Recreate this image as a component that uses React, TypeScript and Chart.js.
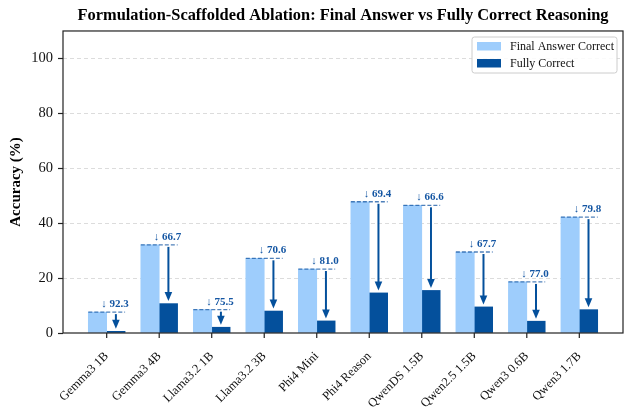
import React, { useEffect, useRef } from "react";
import { Chart, registerables } from "chart.js";

Chart.register(...registerables);

const categories = [
  "Gemma3 1B",
  "Gemma3 4B",
  "Llama3.2 1B",
  "Llama3.2 3B",
  "Phi4 Mini",
  "Phi4 Reason",
  "QwenDS 1.5B",
  "Qwen2.5 1.5B",
  "Qwen3 0.6B",
  "Qwen3 1.7B",
];
const finalAnswerCorrect = [7.6, 32.1, 8.5, 27.2, 23.3, 47.8, 46.5, 29.5, 18.6, 42.2];
const fullyCorrect = [0.6, 10.7, 2.1, 8.0, 4.4, 14.6, 15.5, 9.5, 4.3, 8.5];
const dropLabels = ["92.3", "66.7", "75.5", "70.6", "81.0", "69.4", "66.6", "67.7", "77.0", "79.8"];
const yTicks = [0, 20, 40, 60, 80, 100];

const LIGHT = "#9ecdfc";
const DARK = "#04509c";
const TEXT_BLUE = "#1456a3";
const FONT = "'Liberation Serif', 'DejaVu Serif', serif";

const annotationPlugin = {
  id: "dropAnnotations",
  afterDatasetsDraw(chart: any) {
    const ctx = chart.ctx;
    const y = chart.scales.y;
    const m0 = chart.getDatasetMeta(0);
    const m1 = chart.getDatasetMeta(1);
    ctx.save();
    for (let i = 0; i < categories.length; i++) {
      const b0 = m0.data[i];
      const b1 = m1.data[i];
      const left = b0.x - b0.width / 2;
      const right = b1.x + b1.width / 2;
      const yTop = y.getPixelForValue(finalAnswerCorrect[i]);
      const yBot = y.getPixelForValue(fullyCorrect[i]);
      ctx.beginPath();
      ctx.setLineDash([4, 2]);
      ctx.lineWidth = 1.3;
      ctx.strokeStyle = "rgba(20,86,163,0.75)";
      ctx.moveTo(left, yTop);
      ctx.lineTo(right, yTop);
      ctx.stroke();
      ctx.setLineDash([]);
      const ax = b1.x;
      const start = yTop + 2;
      const tip = yBot - 2.5;
      const headLen = Math.min(9, Math.max(4, tip - start));
      ctx.strokeStyle = DARK;
      ctx.fillStyle = DARK;
      ctx.lineWidth = 2;
      ctx.beginPath();
      ctx.moveTo(ax, start);
      ctx.lineTo(ax, tip - headLen + 1);
      ctx.stroke();
      ctx.beginPath();
      ctx.moveTo(ax, tip);
      ctx.lineTo(ax - 3.8, tip - headLen);
      ctx.lineTo(ax + 3.8, tip - headLen);
      ctx.closePath();
      ctx.fill();
      ctx.fillStyle = TEXT_BLUE;
      ctx.textBaseline = "alphabetic";
      const arrowTxt = "↓ ";
      const numTxt = dropLabels[i];
      ctx.font = `11px ${FONT}`;
      const w1 = ctx.measureText(arrowTxt).width;
      ctx.font = `bold 11px ${FONT}`;
      const w2 = ctx.measureText(numTxt).width;
      const cx = b1.x - 1;
      const sx = cx - (w1 + w2) / 2;
      const by = yTop - 5;
      ctx.font = `11px ${FONT}`;
      ctx.textAlign = "left";
      ctx.fillText(arrowTxt, sx, by);
      ctx.font = `bold 11px ${FONT}`;
      ctx.fillText(numTxt, sx + w1, by);
    }
    ctx.restore();
  },
  afterDraw(chart: any) {
    const ctx = chart.ctx;
    const a = chart.chartArea;
    const m0 = chart.getDatasetMeta(0);
    ctx.save();
    ctx.setLineDash([]);
    ctx.strokeStyle = "#222222";
    ctx.lineWidth = 1.2;
    ctx.strokeRect(a.left, a.top, a.right - a.left, a.bottom - a.top);
    // x tick marks at category centres
    ctx.fillStyle = "#222222";
    for (let i = 0; i < categories.length; i++) {
      const b0 = m0.data[i];
      const px = b0.x + b0.width / 2;
      ctx.fillRect(px - 0.6, a.bottom, 1.2, 5);
    }
    // legend
    const lx = 472, ly = 37, lw = 145, lh = 36;
    ctx.fillStyle = "rgba(255,255,255,0.85)";
    ctx.strokeStyle = "#cccccc";
    ctx.lineWidth = 1;
    ctx.beginPath();
    const r = 2.5;
    ctx.moveTo(lx + r, ly);
    ctx.lineTo(lx + lw - r, ly);
    ctx.arcTo(lx + lw, ly, lx + lw, ly + r, r);
    ctx.lineTo(lx + lw, ly + lh - r);
    ctx.arcTo(lx + lw, ly + lh, lx + lw - r, ly + lh, r);
    ctx.lineTo(lx + r, ly + lh);
    ctx.arcTo(lx, ly + lh, lx, ly + lh - r, r);
    ctx.lineTo(lx, ly + r);
    ctx.arcTo(lx, ly, lx + r, ly, r);
    ctx.closePath();
    ctx.fill();
    ctx.stroke();
    ctx.font = `12px ${FONT}`;
    ctx.textBaseline = "middle";
    ctx.textAlign = "left";
    chart.data.datasets.forEach((ds: any, k: number) => {
      const cy = ly + 9 + k * 17;
      ctx.fillStyle = ds.backgroundColor;
      ctx.fillRect(lx + 5, cy - 4, 24, 8.5);
      ctx.fillStyle = "#111";
      ctx.fillText(ds.label, lx + 38, cy + 0.5);
    });
    ctx.restore();
  },
};

export default function App() {
  const ref = useRef<HTMLCanvasElement>(null);
  useEffect(() => {
    document.body.style.margin = "0";
    const chart = new Chart(ref.current as HTMLCanvasElement, {
      type: "bar",
      data: {
        datasets: [
          {
            label: "Final Answer Correct",
            data: finalAnswerCorrect.map((v, i) => ({ x: i, y: v })),
            backgroundColor: LIGHT,
            borderWidth: 0,
          },
          {
            label: "Fully Correct",
            data: fullyCorrect.map((v, i) => ({ x: i, y: v })),
            backgroundColor: DARK,
            borderWidth: 0,
          },
        ],
      },
      options: {
        animation: false,
        responsive: false,
        devicePixelRatio: 1,
        barThickness: 18.4,
        layout: { padding: { top: 0, right: 11, bottom: 0, left: 0 } },
        plugins: {
          legend: { display: false },
          tooltip: { enabled: false },
          title: {
            display: true,
            fullSize: false,
            text: "Formulation-Scaffolded Ablation: Final Answer vs Fully Correct Reasoning",
            color: "#000",
            font: { family: FONT, size: 16.4, weight: "bold" },
            padding: { top: 6, bottom: 5.3 },
          },
        },
        scales: {
          x: {
            type: "linear",
            offset: false,
            min: -0.832,
            max: 9.832,
            afterBuildTicks: (scale: any) => {
              scale.ticks = categories.map((_, i) => ({ value: i }));
            },
            afterFit: (scale: any) => {
              scale.height = 85;
            },
            ticks: {
              autoSkip: false,
              minRotation: 45,
              maxRotation: 45,
              padding: 8,
              color: "#111",
              font: { family: FONT, size: 12.5 },
              callback: (v: any) => categories[v] ?? "",
            },
            grid: { display: false },
            border: { display: false },
          },
          y: {
            min: 0,
            max: 110,
            afterBuildTicks: (scale: any) => {
              scale.ticks = yTicks.map((v) => ({ value: v }));
            },
            afterFit: (scale: any) => {
              scale.width = 63;
            },
            title: {
              display: true,
              text: "Accuracy (%)",
              color: "#000",
              font: { family: FONT, size: 15, weight: "bold" },
              padding: { top: 7, bottom: 0 },
            },
            ticks: {
              padding: 5,
              color: "#111",
              font: { family: FONT, size: 14.5 },
            },
            grid: {
              color: (c: any) => (c.tick && c.tick.value === 0 ? "rgba(0,0,0,0)" : "#dcdcdc"),
              lineWidth: 1,
              tickColor: "#222",
              tickLength: 5,
              tickWidth: 1.2,
              tickBorderDash: [],
            },
            border: { display: false, dash: [4, 3] },
          },
        },
      } as any,
      plugins: [annotationPlugin],
    });
    return () => chart.destroy();
  }, []);
  return (
    <div style={{ position: "absolute", left: 0, top: 0, width: 634, height: 418 }}>
      <canvas ref={ref} width={634} height={418} style={{ width: 634, height: 418 }} />
    </div>
  );
}
